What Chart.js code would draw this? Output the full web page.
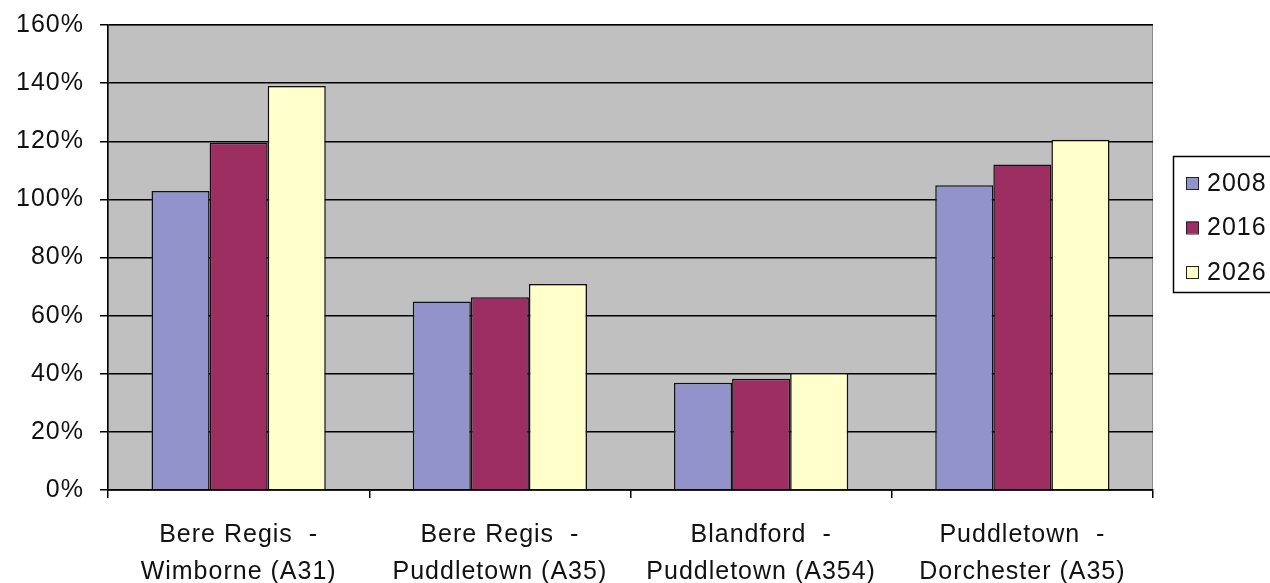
<!DOCTYPE html>
<html>
<head>
<meta charset="utf-8">
<script src="https://cdn.jsdelivr.net/npm/chart.js@4.4.1/dist/chart.umd.min.js"></script>
<style>
  html, body { margin: 0; padding: 0; background: #ffffff; }
  #wrap { width: 1270px; height: 583px; position: relative; }
</style>
</head>
<body>
<div id="wrap"><canvas id="chart" width="1270" height="583"></canvas></div>
<script>
// Road links (two-line labels) and flow as a share of capacity per year
const categories = [
  ["Bere Regis  -", "Wimborne (A31)"],
  ["Bere Regis  -", "Puddletown (A35)"],
  ["Blandford  -", "Puddletown (A354)"],
  ["Puddletown  -", "Dorchester (A35)"]
];
const seriesNames = ["2008", "2016", "2026"];
const values2008 = [102.9, 64.9, 36.9, 104.9];
const values2016 = [119.5, 66.3, 38.3, 112.0];
const values2026 = [139.0, 70.9, 40.3, 120.5];
const yTicks = [0, 20, 40, 60, 80, 100, 120, 140, 160];

const fills = ["#9393CC", "#9C2E62", "#FFFFCC"];
const FONT = "Liberation Sans, Arial, sans-serif";

// Grey plot-area background plus its thin outline
const plotBackground = {
  id: 'plotBackground',
  beforeDraw(chart) {
    const { ctx, chartArea: a } = chart;
    ctx.save();
    ctx.fillStyle = '#C0C0C0';
    ctx.fillRect(a.left, a.top, a.right - a.left, a.bottom - a.top);
    ctx.strokeStyle = '#8A8A8A';
    ctx.lineWidth = 1;
    ctx.strokeRect(a.left + 0.5, a.top + 0.5, a.right - a.left - 1, a.bottom - a.top);
    ctx.restore();
    ctx.letterSpacing = '1px';
  }
};

// Boxed legend to the right of the plot
const boxedLegend = {
  id: 'boxedLegend',
  afterDraw(chart) {
    const { ctx } = chart;
    const x0 = 1173, y0 = 156, w = 110, h = 136;
    ctx.save();
    ctx.fillStyle = '#ffffff';
    ctx.fillRect(x0, y0, w, h);
    ctx.strokeStyle = '#000000';
    ctx.lineWidth = 1.5;
    ctx.strokeRect(x0 + 0.5, y0 + 0.5, w, h);
    ctx.font = '25px ' + FONT;
    ctx.letterSpacing = '1px';
    ctx.textBaseline = 'middle';
    ctx.textAlign = 'left';
    chart.data.datasets.forEach((ds, i) => {
      const cy = y0 + 27 + i * 44.5;
      ctx.fillStyle = ds.backgroundColor;
      ctx.fillRect(1186, cy - 6, 12, 12);
      ctx.strokeStyle = '#222222';
      ctx.lineWidth = 1;
      ctx.strokeRect(1186.5, cy - 5.5, 12, 12);
      ctx.fillStyle = '#111111';
      ctx.fillText(ds.label, 1207, cy + 1);
    });
    ctx.restore();
  }
};

const datasets = [values2008, values2016, values2026].map((vals, i) => ({
  label: seriesNames[i],
  data: vals,
  backgroundColor: fills[i],
  borderColor: '#111111',
  borderWidth: 1.5,
  categoryPercentage: 0.667,
  barPercentage: 1.0
}));

new Chart(document.getElementById('chart'), {
  type: 'bar',
  data: { labels: categories, datasets },
  options: {
    responsive: false,
    animation: false,
    devicePixelRatio: 1,
    layout: { padding: { left: 0, top: 25, right: 117, bottom: 0 } },
    plugins: {
      legend: { display: false },
      tooltip: { enabled: false }
    },
    scales: {
      x: {
        offset: true,
        grid: {
          offset: true,
          drawOnChartArea: false,
          drawTicks: true,
          tickLength: 8,
          color: '#000000',
          lineWidth: 1.5
        },
        border: { color: '#000000', width: 1.5 },
        ticks: {
          color: '#111111',
          font: { family: FONT, size: 25, lineHeight: 1.5 },
          padding: 18,
          maxRotation: 0,
          minRotation: 0,
          autoSkip: false
        },
        afterFit(scale) {
          scale.height = 93;
          scale.paddingLeft = 0;
          scale.paddingRight = 0;
        }
      },
      y: {
        min: 0,
        max: 160,
        afterBuildTicks(scale) { scale.ticks = yTicks.map(v => ({ value: v })); },
        grid: {
          color: '#000000',
          lineWidth: 1.5,
          tickLength: 8
        },
        border: { color: '#000000', width: 1.5 },
        ticks: {
          color: '#111111',
          font: { family: FONT, size: 25 },
          padding: 16,
          callback: v => v + '%'
        },
        afterFit(scale) {
          scale.width = 108;
          scale.paddingTop = 0;
          scale.paddingBottom = 0;
        }
      }
    }
  },
  plugins: [plotBackground, boxedLegend]
});
</script>
</body>
</html>
